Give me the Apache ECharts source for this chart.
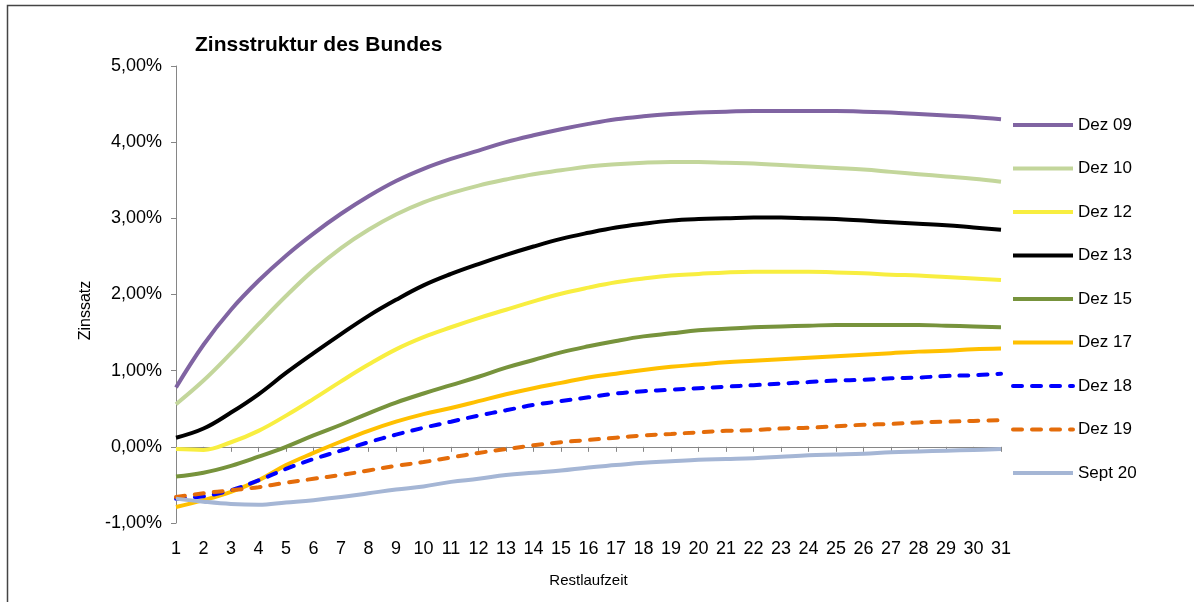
<!DOCTYPE html>
<html>
<head>
<meta charset="utf-8">
<script src="https://cdn.jsdelivr.net/npm/echarts@6/dist/echarts.min.js"></script>
<style>
html,body{margin:0;padding:0;background:#fff;}
#chart{width:1194px;height:602px;}
</style>
</head>
<body>
<div id="chart"></div>
<script>
// Data (interest rates in %)
var categories = ['1','2','3','4','5','6','7','8','9','10','11','12','13','14','15','16','17','18','19','20','21','22','23','24','25','26','27','28','29','30','31'];
var yTicks = [-1, 0, 1, 2, 3, 4, 5];

var dez09 = [0.78,1.34,1.80,2.18,2.51,2.80,3.06,3.29,3.49,3.65,3.78,3.89,4.00,4.09,4.17,4.24,4.30,4.34,4.37,4.39,4.40,4.41,4.41,4.41,4.41,4.40,4.39,4.37,4.35,4.33,4.30];
var dez10 = [0.56,0.87,1.23,1.61,1.98,2.32,2.61,2.85,3.05,3.21,3.33,3.43,3.51,3.58,3.63,3.68,3.71,3.73,3.74,3.74,3.73,3.72,3.70,3.68,3.66,3.64,3.61,3.58,3.55,3.52,3.48];
var dez12 = [-0.03,-0.04,0.06,0.21,0.41,0.63,0.86,1.08,1.28,1.44,1.57,1.69,1.80,1.91,2.01,2.09,2.16,2.21,2.25,2.27,2.29,2.30,2.30,2.30,2.29,2.28,2.26,2.25,2.23,2.21,2.19];
var dez13 = [0.12,0.24,0.45,0.69,0.97,1.23,1.48,1.72,1.93,2.12,2.27,2.40,2.52,2.63,2.73,2.81,2.88,2.93,2.97,2.99,3.00,3.01,3.01,3.00,2.99,2.97,2.95,2.93,2.91,2.88,2.85];
var dez15 = [-0.39,-0.34,-0.25,-0.13,0.00,0.15,0.29,0.44,0.58,0.70,0.81,0.92,1.04,1.14,1.24,1.32,1.39,1.45,1.49,1.53,1.55,1.57,1.58,1.59,1.60,1.60,1.60,1.60,1.59,1.58,1.57];
var dez17 = [-0.79,-0.70,-0.59,-0.44,-0.24,-0.08,0.07,0.21,0.33,0.43,0.51,0.60,0.69,0.77,0.84,0.91,0.96,1.01,1.05,1.08,1.11,1.13,1.15,1.17,1.19,1.21,1.23,1.25,1.26,1.28,1.29];
var dez18 = [-0.68,-0.65,-0.57,-0.44,-0.29,-0.16,-0.05,0.06,0.16,0.25,0.33,0.41,0.48,0.55,0.60,0.65,0.70,0.73,0.75,0.77,0.79,0.81,0.83,0.85,0.87,0.88,0.90,0.91,0.93,0.94,0.96];
var dez19 = [-0.66,-0.61,-0.57,-0.53,-0.47,-0.42,-0.37,-0.31,-0.25,-0.20,-0.14,-0.08,-0.03,0.02,0.06,0.09,0.12,0.15,0.17,0.19,0.21,0.22,0.24,0.25,0.27,0.29,0.30,0.32,0.33,0.34,0.35];
var sept20 = [-0.68,-0.72,-0.75,-0.76,-0.73,-0.70,-0.66,-0.61,-0.56,-0.52,-0.46,-0.42,-0.37,-0.34,-0.31,-0.27,-0.24,-0.21,-0.19,-0.17,-0.16,-0.15,-0.13,-0.11,-0.10,-0.09,-0.07,-0.06,-0.05,-0.04,-0.03];

var seriesNames = ['Dez 09','Dez 10','Dez 12','Dez 13','Dez 15','Dez 17','Dez 18','Dez 19','Sept 20'];
var seriesData = [dez09, dez10, dez12, dez13, dez15, dez17, dez18, dez19, sept20];
var seriesColors = ['#8064A2','#C3D69B','#F8EE40','#000000','#77933C','#FFC000','#0000FF','#E46C0A','#A5B6D5'];
var seriesDashed = [false,false,false,false,false,false,true,true,false];

var FONT = '"Liberation Sans", Arial, sans-serif';
var chart = echarts.init(document.getElementById('chart'), null, {renderer:'canvas'});

var series = seriesNames.map(function(n, i){
  return {
    name: n,
    type: 'line',
    data: seriesData[i],
    smooth: 0.4,
    symbol: 'none',
    lineStyle: {
      color: seriesColors[i],
      width: 4,
      type: seriesDashed[i] ? [9, 10] : 'solid',
      cap: seriesDashed[i] ? 'round' : 'butt'
    },
    itemStyle: {color: seriesColors[i]}
  };
});

chart.setOption({
  animation: false,
  backgroundColor: '#fff',
  title: {
    text: 'Zinsstruktur des Bundes',
    left: 190, top: 30,
    textStyle: {fontFamily: FONT, fontSize: 21, fontWeight: 'bold', color: '#000'}
  },
  graphic: [{
    type: 'rect',
    shape: {x: 7.5, y: 5.5, width: 1300, height: 620},
    style: {fill: null, stroke: '#444', lineWidth: 1.5},
    silent: true
  }],
  legend: {
    orient: 'vertical',
    left: 1011, top: 116,
    padding: 0,
    itemWidth: 60, itemHeight: 18, itemGap: 25.5,
    data: seriesNames,
    itemStyle: {opacity: 0},
    lineStyle: {width: 4},
    textStyle: {fontFamily: FONT, fontSize: 17, color: '#000', lineHeight: 18}
  },
  grid: {left: 176, right: 193, top: 66, bottom: 79, containLabel: false},
  xAxis: {
    type: 'category',
    data: categories,
    boundaryGap: false,
    name: 'Restlaufzeit',
    nameLocation: 'middle',
    nameGap: 50,
    nameTextStyle: {fontFamily: FONT, fontSize: 15, color: '#000'},
    axisLine: {lineStyle: {color: '#868686', width: 1}},
    axisTick: {alignWithLabel: true, length: 5, lineStyle: {color: '#868686'}},
    axisLabel: {fontFamily: FONT, fontSize: 18, color: '#000', margin: 17, interval: 0},
    splitLine: {show: false}
  },
  yAxis: {
    type: 'value',
    min: yTicks[0], max: yTicks[yTicks.length-1], interval: 1,
    name: 'Zinssatz',
    nameLocation: 'middle',
    nameRotate: 90,
    nameGap: 78,
    nameTextStyle: {fontFamily: FONT, fontSize: 16, color: '#000', padding: [0, 32, 0, 0]},
    axisLine: {show: true, lineStyle: {color: '#868686', width: 1}},
    axisTick: {show: true, length: 5, lineStyle: {color: '#868686'}},
    axisLabel: {
      fontFamily: FONT, fontSize: 18, color: '#000', margin: 14,
      formatter: function(v){ return v.toFixed(2).replace('.', ',') + '%'; }
    },
    splitLine: {show: false}
  },
  series: series
});
</script>
</body>
</html>
